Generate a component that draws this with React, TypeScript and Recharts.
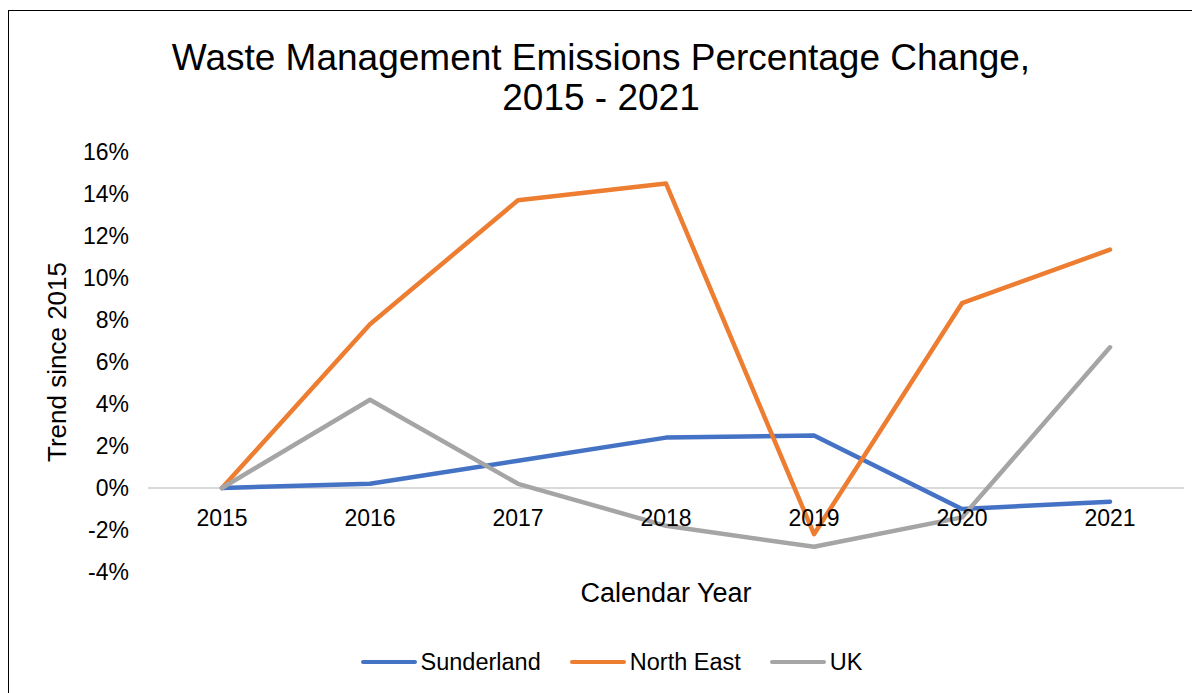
import { LineChart, Line, XAxis, YAxis, CartesianGrid, Legend } from "recharts";

const years = ["2015", "2016", "2017", "2018", "2019", "2020", "2021"];
const sunderland = [0, 0.2, 1.3, 2.4, 2.5, -1.0, -0.65];
const northEast = [0, 7.8, 13.7, 14.5, -2.2, 8.8, 11.35];
const uk = [0, 4.2, 0.2, -1.8, -2.8, -1.4, 6.7];
const yTicks = [-4, -2, 0, 2, 4, 6, 8, 10, 12, 14, 16];

const series = [
  { key: "Sunderland", values: sunderland, color: "#4472C4" },
  { key: "North East", values: northEast, color: "#ED7D31" },
  { key: "UK", values: uk, color: "#A5A5A5" },
];

const data = years.map((year, i) => {
  const row: Record<string, string | number> = { year };
  series.forEach((s) => { row[s.key] = s.values[i]; });
  return row;
});

const FONT = "'Liberation Sans', Arial, sans-serif";

// legend drawn by hand: plain thick lines like the Excel original
function LegendContent() {
  return (
    <div style={{ display: "flex", justifyContent: "center", alignItems: "center", height: 30, paddingLeft: 30, fontFamily: FONT, fontSize: 23.5, color: "#000" }}>
      {series.map((s, i) => (
        <div key={s.key} style={{ display: "flex", alignItems: "center", marginLeft: i ? 29 : 0 }}>
          <span style={{ display: "inline-block", width: 56, height: 4.5, borderRadius: 2.25, background: s.color, marginRight: 4 }} />
          <span>{s.key}</span>
        </div>
      ))}
    </div>
  );
}

export default function App() {
  return (
    <div style={{ position: "relative", width: 1184, height: 684, marginTop: 2, borderTop: "1px solid #000", borderLeft: "1px solid #000", fontFamily: FONT, background: "#fff" }}>
      <div style={{ position: "absolute", left: 0, top: 27, width: 1184, textAlign: "center", fontSize: 37, lineHeight: "40px", color: "#000" }}>
        Waste Management Emissions Percentage Change,<br />2015 - 2021
      </div>
      <LineChart width={1183} height={683} data={data} margin={{ top: 141, right: 8, left: 0, bottom: 17 }} style={{ fontFamily: FONT }}>
        <CartesianGrid vertical={false} horizontalValues={[0]} stroke="#d9d9d9" strokeWidth={2} />
        <XAxis
          dataKey="year"
          scale="band"
          axisLine={false}
          tickLine={false}
          height={75}
          tick={{ fontSize: 23, fill: "#000", dy: -70 }}
          label={{ value: "Calendar Year", position: "insideTop", offset: 11, fontSize: 27, fill: "#000" }}
        />
        <YAxis
          domain={[-4, 16]}
          ticks={yTicks}
          interval={0}
          width={139}
          axisLine={false}
          tickLine={false}
          tickMargin={13}
          tickFormatter={(v) => `${v}%`}
          tick={{ fontSize: 23, fill: "#000" }}
          label={{ value: "Trend since 2015", angle: -90, position: "insideLeft", offset: 48, fontSize: 26, fill: "#000", style: { textAnchor: "middle" } }}
        />
        <Legend verticalAlign="bottom" content={<LegendContent />} />
        {series.map((s) => (
          <Line key={s.key} dataKey={s.key} stroke={s.color} strokeWidth={4.5} strokeLinecap="round" strokeLinejoin="round" dot={false} activeDot={false} isAnimationActive={false} />
        ))}
      </LineChart>
    </div>
  );
}
